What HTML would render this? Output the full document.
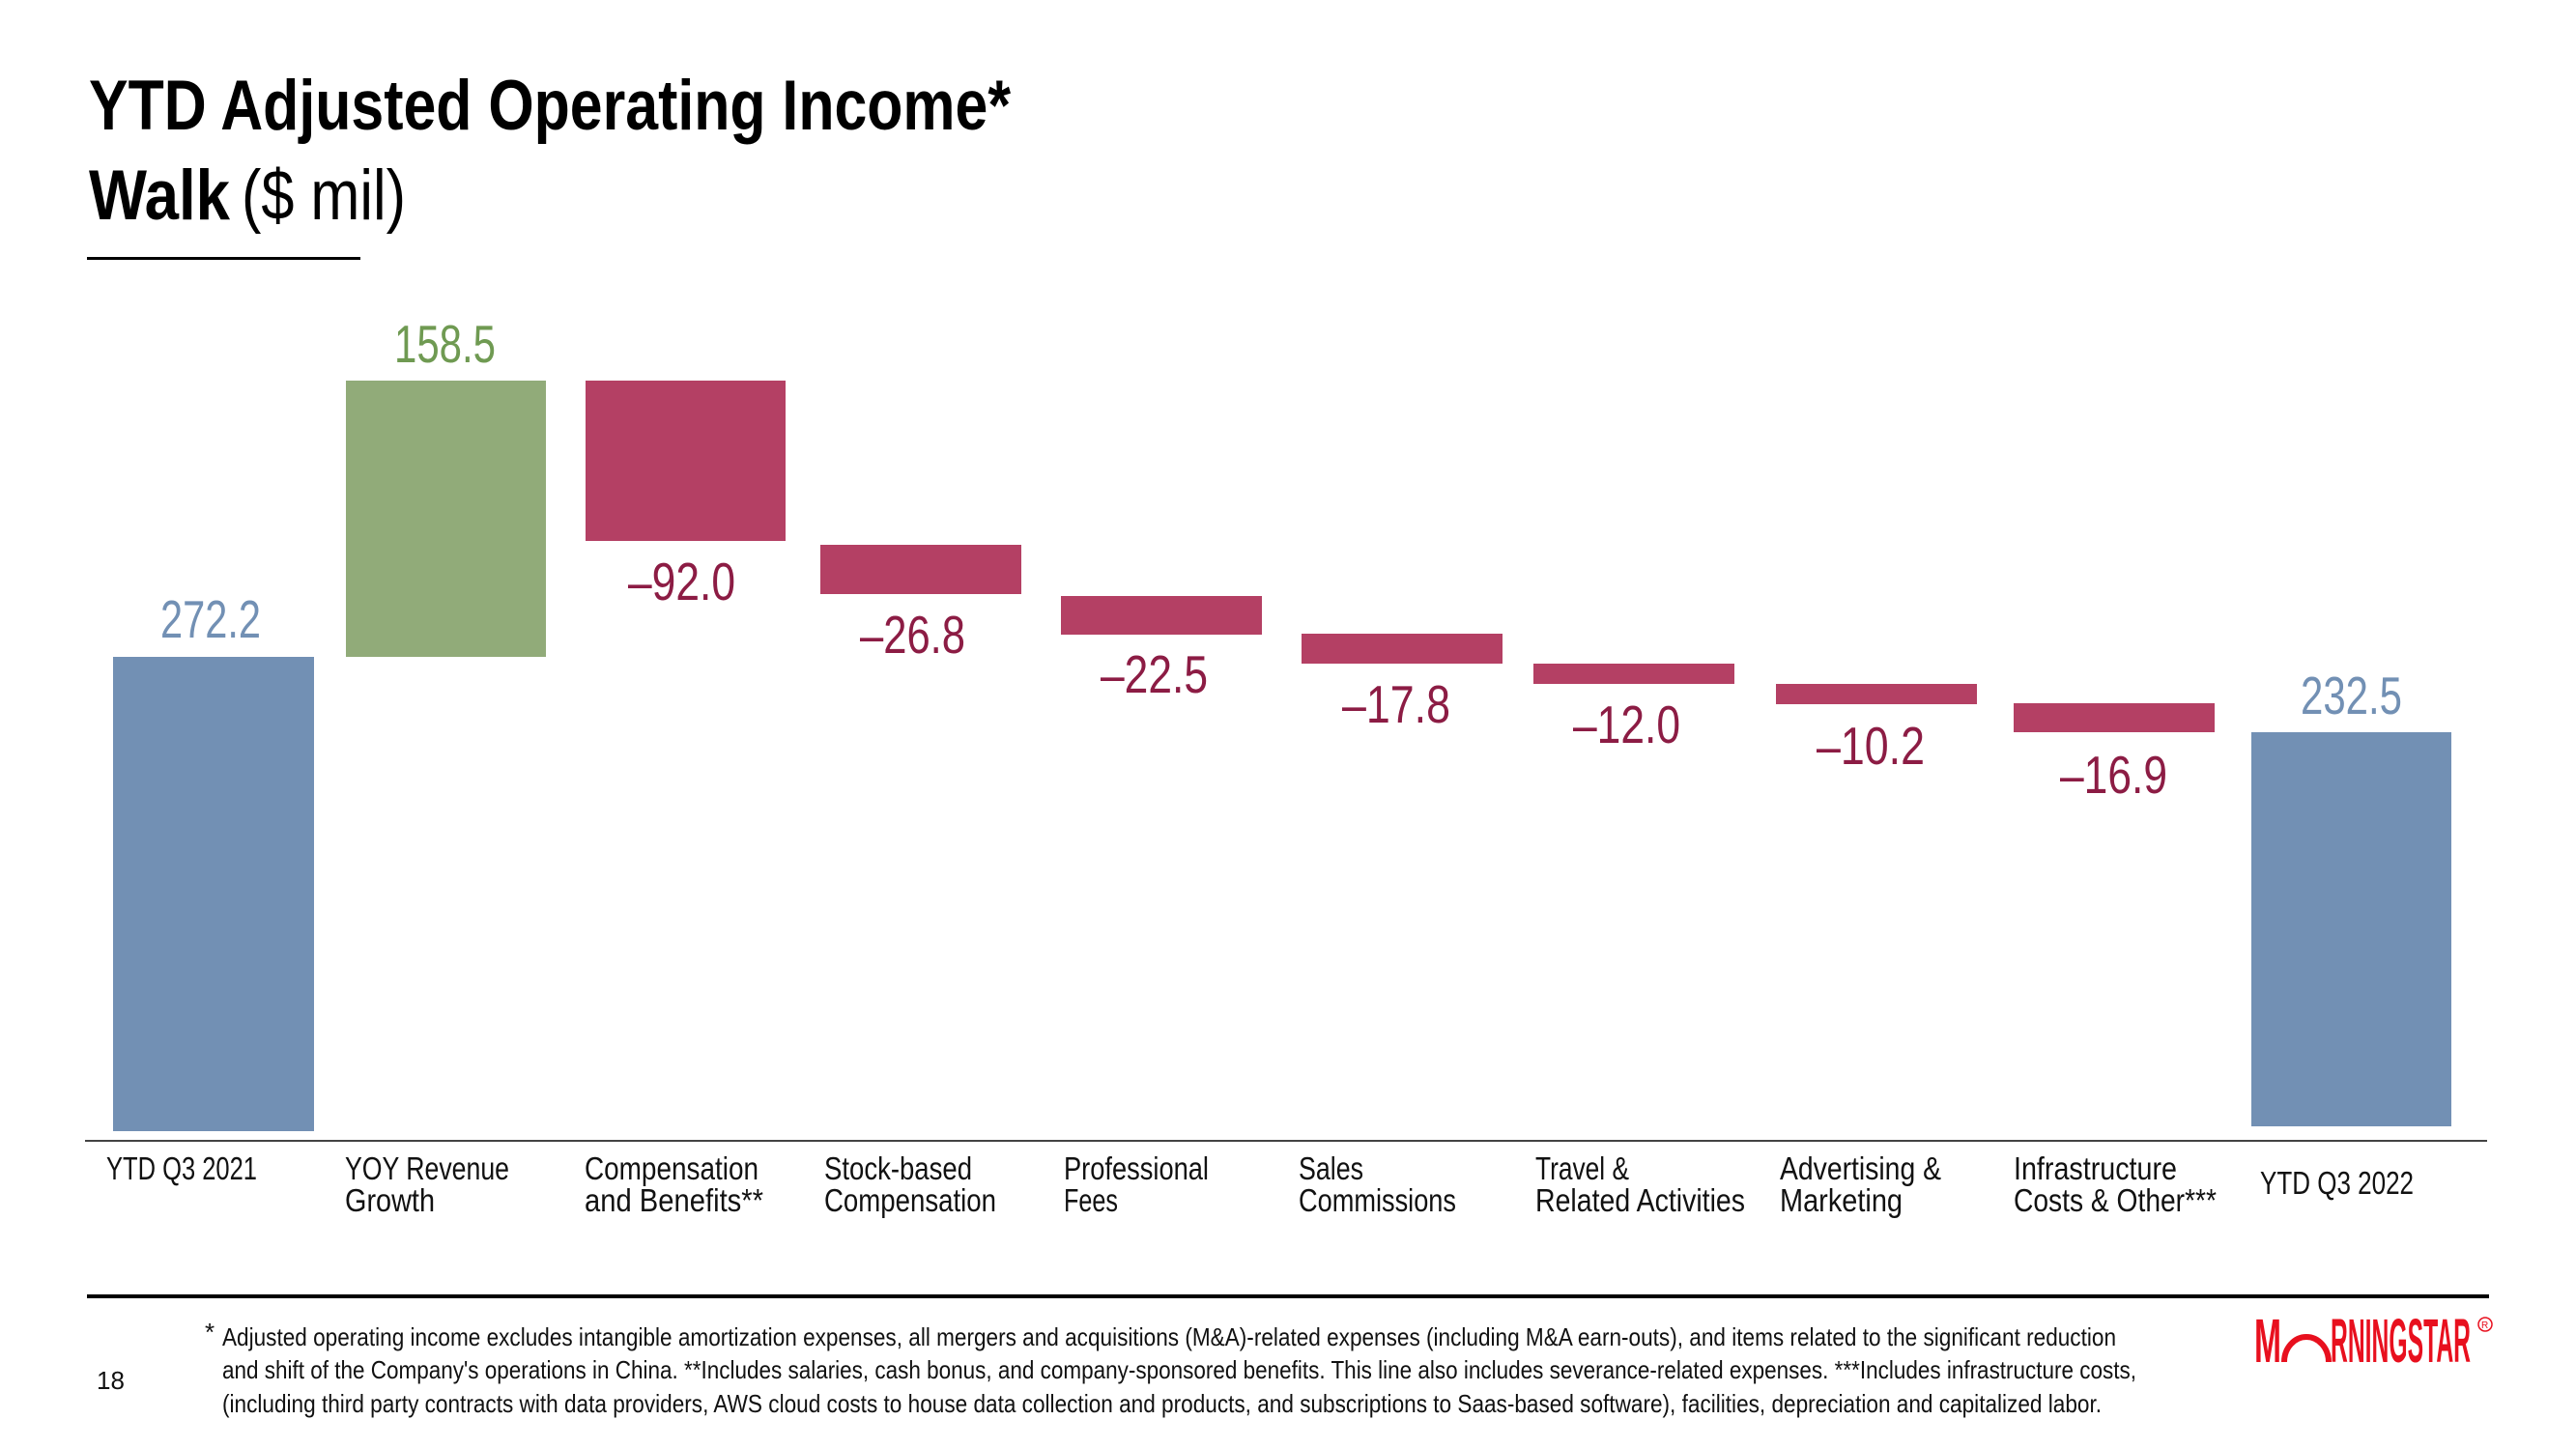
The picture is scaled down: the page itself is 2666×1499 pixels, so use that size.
<!DOCTYPE html>
<html><head><meta charset="utf-8"><style>
html,body{margin:0;padding:0;background:#fff;}
svg{display:block;}
text{font-family:"Liberation Sans Narrow","Liberation Sans",sans-serif;}
</style></head><body>
<svg width="2666" height="1499" viewBox="0 0 2666 1499" xmlns="http://www.w3.org/2000/svg">
<!-- Title -->
<text x="92" y="134" font-size="73" font-weight="bold" fill="#000" textLength="954" lengthAdjust="spacingAndGlyphs">YTD Adjusted Operating Income*</text>
<text x="92" y="227" font-size="73" fill="#000"><tspan font-weight="bold" textLength="146" lengthAdjust="spacingAndGlyphs">Walk</tspan><tspan dx="12" textLength="170" lengthAdjust="spacingAndGlyphs">($ mil)</tspan></text>
<rect x="90" y="266" width="283" height="3" fill="#000"/>

<!-- Bars -->
<rect x="117" y="680" width="208" height="491" fill="#7290b4"/>
<rect x="358" y="394" width="207" height="286" fill="#91ab79"/>
<rect x="606" y="394" width="207" height="166" fill="#b44064"/>
<rect x="849" y="564" width="208" height="51" fill="#b44064"/>
<rect x="1098" y="617" width="208" height="40" fill="#b44064"/>
<rect x="1347" y="656" width="208" height="31" fill="#b44064"/>
<rect x="1587" y="687" width="208" height="21" fill="#b44064"/>
<rect x="1838" y="708" width="208" height="21" fill="#b44064"/>
<rect x="2084" y="728" width="208" height="30" fill="#b44064"/>
<rect x="2330" y="758" width="207" height="408" fill="#7290b4"/>

<!-- Value labels -->
<g font-size="55">
<text x="166" y="660" fill="#7290b4" textLength="104" lengthAdjust="spacingAndGlyphs">272.2</text>
<text x="408" y="375" fill="#6f9a52" textLength="105" lengthAdjust="spacingAndGlyphs">158.5</text>
<text x="650" y="621" fill="#8c1c44" textLength="111" lengthAdjust="spacingAndGlyphs">–92.0</text>
<text x="890" y="676" fill="#8c1c44" textLength="109" lengthAdjust="spacingAndGlyphs">–26.8</text>
<text x="1139" y="717" fill="#8c1c44" textLength="111" lengthAdjust="spacingAndGlyphs">–22.5</text>
<text x="1389" y="748" fill="#8c1c44" textLength="112" lengthAdjust="spacingAndGlyphs">–17.8</text>
<text x="1628" y="769" fill="#8c1c44" textLength="111" lengthAdjust="spacingAndGlyphs">–12.0</text>
<text x="1880" y="791" fill="#8c1c44" textLength="112" lengthAdjust="spacingAndGlyphs">–10.2</text>
<text x="2132" y="821" fill="#8c1c44" textLength="111" lengthAdjust="spacingAndGlyphs">–16.9</text>
<text x="2381" y="739" fill="#7290b4" textLength="105" lengthAdjust="spacingAndGlyphs">232.5</text>
</g>

<!-- Axis -->
<rect x="88" y="1180" width="2486" height="2" fill="#444"/>

<!-- Category labels -->
<g font-size="33" fill="#111">
<text x="110" y="1221" textLength="156" lengthAdjust="spacingAndGlyphs">YTD Q3 2021</text>
<text x="357" y="1221" textLength="170" lengthAdjust="spacingAndGlyphs">YOY Revenue</text>
<text x="357" y="1254" textLength="93" lengthAdjust="spacingAndGlyphs">Growth</text>
<text x="605" y="1221" textLength="180" lengthAdjust="spacingAndGlyphs">Compensation</text>
<text x="605" y="1254" textLength="185" lengthAdjust="spacingAndGlyphs">and Benefits**</text>
<text x="853" y="1221" textLength="153" lengthAdjust="spacingAndGlyphs">Stock-based</text>
<text x="853" y="1254" textLength="178" lengthAdjust="spacingAndGlyphs">Compensation</text>
<text x="1101" y="1221" textLength="150" lengthAdjust="spacingAndGlyphs">Professional</text>
<text x="1101" y="1254" textLength="56" lengthAdjust="spacingAndGlyphs">Fees</text>
<text x="1344" y="1221" textLength="67" lengthAdjust="spacingAndGlyphs">Sales</text>
<text x="1344" y="1254" textLength="163" lengthAdjust="spacingAndGlyphs">Commissions</text>
<text x="1589" y="1221" textLength="97" lengthAdjust="spacingAndGlyphs">Travel &amp;</text>
<text x="1589" y="1254" textLength="217" lengthAdjust="spacingAndGlyphs">Related Activities</text>
<text x="1842" y="1221" textLength="167" lengthAdjust="spacingAndGlyphs">Advertising &amp;</text>
<text x="1842" y="1254" textLength="127" lengthAdjust="spacingAndGlyphs">Marketing</text>
<text x="2084" y="1221" textLength="169" lengthAdjust="spacingAndGlyphs">Infrastructure</text>
<text x="2084" y="1254" textLength="210" lengthAdjust="spacingAndGlyphs">Costs &amp; Other***</text>
<text x="2339" y="1236" textLength="159" lengthAdjust="spacingAndGlyphs">YTD Q3 2022</text>
</g>

<!-- Footer -->
<rect x="90" y="1340" width="2486" height="4" fill="#000"/>
<text x="100" y="1438" font-size="26" fill="#111">18</text>
<g font-size="26" fill="#111">
<text x="212" y="1388">*</text>
<text x="230" y="1393" textLength="1960" lengthAdjust="spacingAndGlyphs">Adjusted operating income excludes intangible amortization expenses, all mergers and acquisitions (M&amp;A)-related expenses (including M&amp;A earn-outs), and items related to the significant reduction</text>
<text x="230" y="1427" textLength="1981" lengthAdjust="spacingAndGlyphs">and shift of the Company's operations in China.  **Includes salaries, cash bonus, and company-sponsored benefits. This line also includes severance-related expenses. ***Includes infrastructure costs,</text>
<text x="230" y="1462" textLength="1945" lengthAdjust="spacingAndGlyphs">(including third party contracts with data providers, AWS cloud costs to house data collection and products, and subscriptions to Saas-based software), facilities, depreciation and capitalized labor.</text>
</g>

<!-- Logo -->
<g fill="#e8101e">
<text x="2333" y="1410" font-size="64" font-weight="bold" textLength="28" lengthAdjust="spacingAndGlyphs">M</text>
<path d="M2364 1410 A23 26 0 0 1 2410 1410" fill="none" stroke="#e8101e" stroke-width="6"/>
<text x="2412" y="1410" font-size="64" font-weight="bold" textLength="145" lengthAdjust="spacingAndGlyphs">RNINGSTAR</text>
<circle cx="2572" cy="1371" r="7" fill="none" stroke="#e8101e" stroke-width="1.5"/>
<text x="2568" y="1375" font-size="10">R</text>
</g>
</svg>
</body></html>
